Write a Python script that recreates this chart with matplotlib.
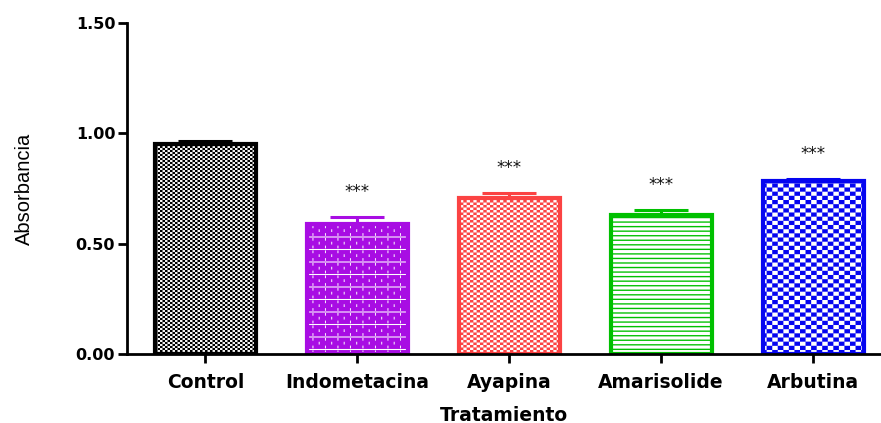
import warnings

import numpy as np
import matplotlib
matplotlib.use("Agg")
import matplotlib.pyplot as plt
from matplotlib import hatch as mhatch
from matplotlib import font_manager
from matplotlib.path import Path

warnings.filterwarnings("ignore")

# ---------------------------------------------------------------- data
treatments = ["Control", "Indometacina", "Ayapina", "Amarisolide", "Arbutina"]
absorbance = [0.952, 0.591, 0.709, 0.628, 0.786]
sem = [0.014, 0.030, 0.019, 0.023, 0.009]
significance = ["", "***", "***", "***", "***"]
y_ticks = [0.0, 0.5, 1.0, 1.5]
y_ticklabels = ["0.00", "0.50", "1.00", "1.50"]

colors = ["#000000", "#a80de3", "#fb4343", "#00c000", "#0505f0"]


# ---------------------------------------------------------------- custom fill patterns
_SQUARE = np.array([[0, 0], [1, 0], [1, 1], [0, 1], [0, 0]], float)
_RECT_CODES = [Path.MOVETO, Path.LINETO, Path.LINETO, Path.LINETO, Path.CLOSEPOLY]


def _put_rects(vertices, codes, rects):
    for k, (x0, y0, w, h) in enumerate(rects):
        vertices[k * 5:(k + 1) * 5] = _SQUARE * [w, h] + [x0, y0]
    codes[:] = np.tile(_RECT_CODES, len(rects))


class CheckerHatch(mhatch.HatchPatternBase):
    """Checkerboard: every 'c' adds two columns, every 'r' two rows."""

    def __init__(self, hatch, density):
        self.nx = 2 * hatch.count("c")
        self.ny = 2 * hatch.count("r") or self.nx
        self.rects = []
        if self.nx:
            dx, dy = 1.0 / self.nx, 1.0 / self.ny
            self.rects = [(i * dx, j * dy, dx, dy)
                          for i in range(self.nx) for j in range(self.ny)
                          if (i + j) % 2 == 0]
        self.num_vertices = 5 * len(self.rects)

    def set_vertices_and_codes(self, vertices, codes):
        _put_rects(vertices, codes, self.rects)


class StripeHatch(mhatch.HatchPatternBase):
    """Thin horizontal stripes: every 'h' adds two stripes."""

    def __init__(self, hatch, density):
        n = 2 * hatch.count("h")
        t = 0.013
        self.rects = [(0.0, i / n, 1.0, t) for i in range(n)]
        self.num_vertices = 5 * len(self.rects)

    def set_vertices_and_codes(self, vertices, codes):
        _put_rects(vertices, codes, self.rects)


class BrickHatch(mhatch.HatchPatternBase):
    """Brick wall: every 'b' adds four courses."""

    def __init__(self, hatch, density):
        n = 4 * hatch.count("b")
        self.rects = []
        if n:
            t = 0.010
            course = 1.0 / n
            sub = (course - t) / 3.0
            for c in range(n):
                y0 = c * course
                self.rects.append((0.0, y0, 1.0, t))
                for k in range(3):
                    ys = y0 + t + k * sub + 0.007
                    for m in range(n):
                        xs = (m + 0.5 * (k % 2)) * course
                        self.rects.append((xs, ys, 0.009, sub - 0.012))
        self.num_vertices = 5 * len(self.rects)

    def set_vertices_and_codes(self, vertices, codes):
        _put_rects(vertices, codes, self.rects)


mhatch._hatch_types.extend([CheckerHatch, StripeHatch, BrickHatch])


def checker(nx, ny):
    return "c" * (nx // 2) + "r" * (ny // 2)


hatches = [checker(40, 50), "bb", checker(30, 40), "h" * 11, checker(18, 24)]

plt.rcParams["hatch.linewidth"] = 0.05

# ---------------------------------------------------------------- fonts
available = {f.name for f in font_manager.fontManager.ttflist}
narrow = "Liberation Sans Narrow" if "Liberation Sans Narrow" in available else "Liberation Sans"
bold_font = "DejaVu Sans"

# ---------------------------------------------------------------- figure
W, H = 881, 423
fig = plt.figure(figsize=(W / 100, H / 100), dpi=100)
ax = fig.add_axes([127 / W, 69 / H, 753 / W, 331 / H])

x = np.arange(len(treatments))
bar_w = 0.664

for i in range(len(treatments)):
    if hatches[i] == "bb":
        # purple face with white brick lines, then the coloured outline
        ax.bar(x[i], absorbance[i], width=bar_w, color=colors[i],
               edgecolor="white", linewidth=0, hatch=hatches[i], zorder=2)
        ax.bar(x[i], absorbance[i], width=bar_w, facecolor="none",
               edgecolor=colors[i], linewidth=3, zorder=2.5)
    else:
        ax.bar(x[i], absorbance[i], width=bar_w, facecolor="white",
               edgecolor=colors[i], linewidth=3, hatch=hatches[i], zorder=2)
    ax.errorbar(x[i], absorbance[i], yerr=[[0], [sem[i]]], fmt="none",
                ecolor=colors[i], elinewidth=2.2, capsize=19.5, capthick=2.2,
                zorder=3)
    if significance[i]:
        ax.annotate(significance[i], xy=(x[i], absorbance[i] + sem[i]),
                    xytext=(0, 18), textcoords="offset points",
                    ha="center", va="center", fontsize=12,
                    family=bold_font, color="#111111")

ax.set_xlim(-0.516, 4.44)
ax.set_ylim(0, 1.5)

for side in ("top", "right"):
    ax.spines[side].set_visible(False)
for side in ("left", "bottom"):
    ax.spines[side].set_linewidth(2)

ax.set_yticks(y_ticks)
ax.set_yticklabels(y_ticklabels, fontsize=11.5, fontweight="bold", family=bold_font)
ax.set_xticks(x)
ax.set_xticklabels(treatments, fontsize=13.5, fontweight="bold", family=bold_font)
ax.tick_params(axis="y", length=6.5, width=2, pad=2)
ax.tick_params(axis="x", length=6.5, width=2, pad=7)

ax.set_xlabel("Tratamiento", fontsize=13.5, fontweight="bold",
              family=bold_font, labelpad=10)
ax.set_ylabel("Absorbancia", fontsize=14.5, family=narrow, labelpad=30)

fig.savefig("out.png", dpi=100)
